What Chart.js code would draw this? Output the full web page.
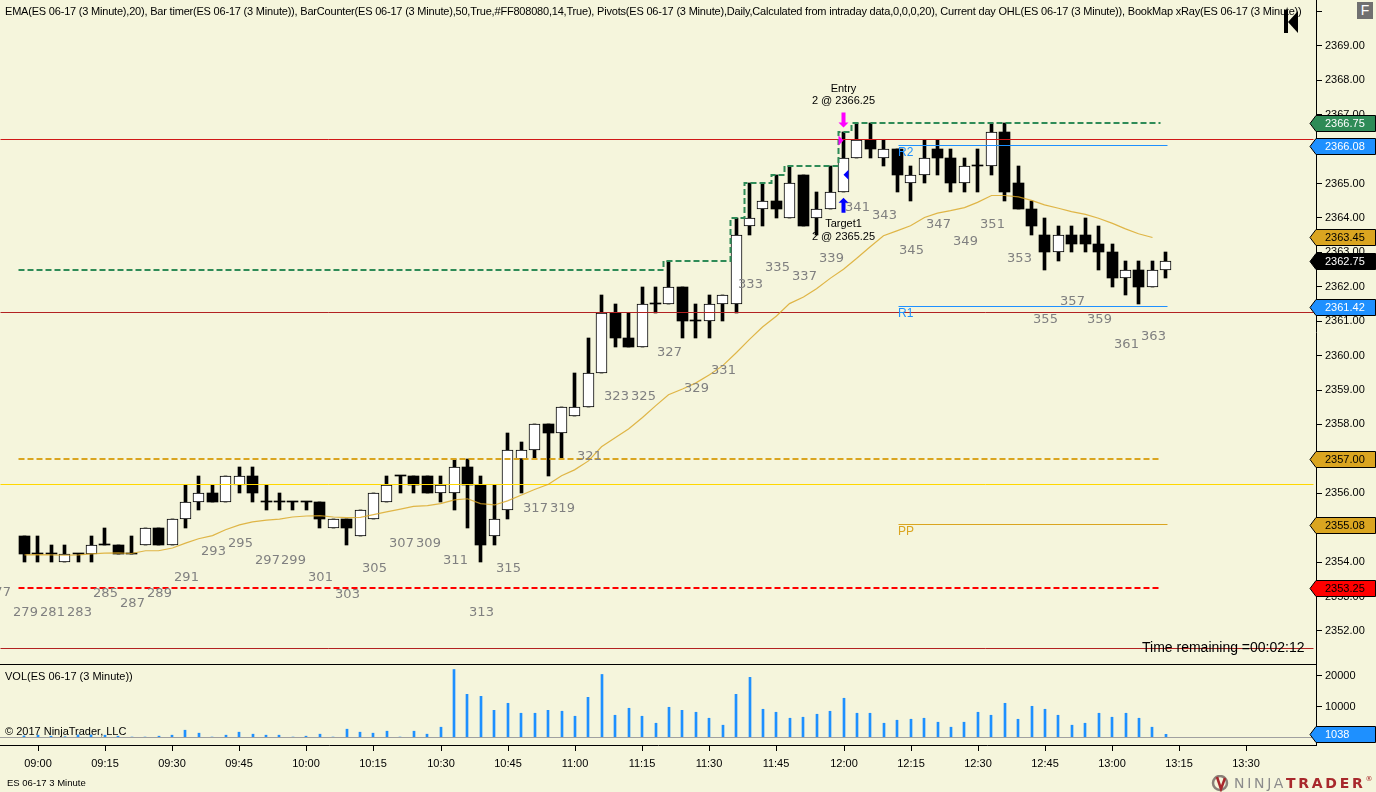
<!DOCTYPE html>
<html>
<head>
<meta charset="utf-8">
<script src="https://cdn.jsdelivr.net/npm/chart.js@4"></script>
<style>
html,body{margin:0;padding:0;background:#F5F5DC;width:1376px;height:792px;overflow:hidden;font-family:"Liberation Sans",Arial,sans-serif;color:#000;}
canvas{position:absolute;left:0;display:block;}
.txt{position:absolute;white-space:nowrap;line-height:1;}
</style>
</head>
<body>
<canvas id="priceChart" width="1376" height="665" style="top:0"></canvas>
<canvas id="volChart" width="1376" height="128" style="top:664px"></canvas>
<div class="txt" style="left:0;top:664px;width:1316px;height:1px;background:#000"></div>
<div class="txt" id="header" style="left:5px;top:6px;font-size:11px;letter-spacing:-0.2px">EMA(ES 06-17 (3 Minute),20), Bar timer(ES 06-17 (3 Minute)), BarCounter(ES 06-17 (3 Minute),50,True,#FF808080,14,True), Pivots(ES 06-17 (3 Minute),Daily,Calculated from intraday data,0,0,0,20), Current day OHL(ES 06-17 (3 Minute)), BookMap xRay(ES 06-17 (3 Minute))</div>
<svg style="position:absolute;left:1284px;top:10px" width="15" height="24"><rect x="0" y="0" width="4" height="23" fill="#000"/><path d="M4 12 L14 1 L14 23 Z" fill="#000"/></svg>
<div class="txt" style="left:1357px;top:2px;width:16px;height:17px;background:#707070;color:#fff;font-size:14px;line-height:17px;text-align:center">F</div>
<div class="txt" style="left:1142px;top:640px;font-size:14px">Time remaining =00:02:12</div>
<div class="txt" style="left:5px;top:671px;font-size:11px">VOL(ES 06-17 (3 Minute))</div>
<div class="txt" style="left:5px;top:726px;font-size:11px">© 2017 NinjaTrader, LLC</div>
<div class="txt" style="left:7px;top:778px;font-size:9.5px">ES 06-17 3 Minute</div>
<svg style="position:absolute;left:1211px;top:775px" width="20" height="17"><circle cx="9" cy="8" r="7" fill="none" stroke="#8a8078" stroke-width="2.5"/><path d="M6 2 L10 14 L14 3" fill="none" stroke="#a8282c" stroke-width="2.5"/></svg>
<div class="txt" style="left:1234px;top:776px;font-size:14px;letter-spacing:2.7px;font-family:'DejaVu Sans'"><span style="color:#8c8c8c">NINJA</span><span style="color:#a8282c;font-weight:bold">TRADER</span><span style="color:#a8282c;font-size:7px;vertical-align:top;letter-spacing:0">®</span></div>

<script>
// ---------- Data ----------
const barNumbers=[279,280,281,282,283,284,285,286,287,288,289,290,291,292,293,294,295,296,297,298,299,300,301,302,303,304,305,306,307,308,309,310,311,312,313,314,315,316,317,318,319,320,321,322,323,324,325,326,327,328,329,330,331,332,333,334,335,336,337,338,339,340,341,342,343,344,345,346,347,348,349,350,351,352,353,354,355,356,357,358,359,360,361,362,363,364];
const opens=[2354.75,2354.25,2354.25,2354,2354.25,2354.25,2354.5,2354.5,2354.25,2354.5,2355,2354.5,2355.25,2355.75,2356,2355.75,2356.25,2356.5,2355.75,2355.75,2355.75,2355.75,2355.75,2355,2355.25,2354.75,2355.25,2355.75,2356.5,2356.5,2356.5,2356,2356,2356.75,2356.25,2354.75,2355.5,2357,2357.25,2358,2357.75,2358.25,2358.5,2359.5,2361.25,2360.5,2360.25,2361.5,2361.5,2362,2361,2361,2361.5,2361.5,2363.75,2364.25,2364.5,2364,2365.25,2364,2364.25,2364.75,2365.75,2366.25,2365.75,2366,2365,2365.25,2366,2365.75,2365,2365.5,2365.5,2366.5,2365,2364.25,2363.5,2363,2363.5,2363.5,2363.25,2363,2362.25,2362.5,2362,2362.5];
const highs=[2354.75,2354.75,2354.5,2354.5,2354.25,2354.75,2355,2354.5,2354.75,2355,2355,2355.25,2356.25,2356.5,2356.25,2356.5,2356.75,2356.75,2356.25,2356,2355.75,2355.75,2355.75,2355.25,2355.25,2355.5,2356,2356.5,2356.5,2356.5,2356.5,2356.5,2357,2357,2356.5,2356.25,2357.75,2357.5,2358,2358,2358.5,2359.5,2360.5,2361.75,2361.5,2361.25,2362,2362,2362.75,2362,2361.5,2361.75,2361.75,2364,2365,2365,2365.25,2365.5,2365.25,2364.75,2365.5,2366.5,2366.75,2366.75,2366.25,2366,2365.5,2366.25,2366.25,2366,2365.75,2366,2366.75,2366.75,2365.5,2364.5,2364,2363.75,2363.75,2364,2363.75,2363.25,2362.75,2362.75,2362.75,2363];
const lows=[2354,2354,2354,2354,2354,2354,2354.5,2354.25,2354.25,2354.5,2354.5,2354.5,2355,2355.5,2355.75,2355.75,2356,2355.75,2355.5,2355.5,2355.5,2355.5,2355,2355,2354.5,2354.75,2355.25,2355.75,2356,2356,2356,2355.75,2355.5,2355,2354,2354.5,2355.25,2356,2357,2356.5,2357,2358.25,2358.5,2359.5,2360.25,2360.25,2360.25,2361.25,2361.5,2360.5,2360.5,2360.5,2361,2361.25,2363.5,2363.75,2364,2364,2363.75,2363.5,2364.25,2364.75,2365.75,2365.75,2365.5,2364.75,2364.5,2365,2365.25,2364.75,2364.75,2364.75,2365.25,2364.5,2364.25,2363.5,2362.5,2362.75,2363,2363,2362.5,2362,2361.75,2361.5,2362,2362.25];
const closes=[2354.25,2354.25,2354.25,2354.25,2354.25,2354.5,2354.5,2354.25,2354.25,2355,2354.5,2355.25,2355.75,2356,2355.75,2356.5,2356.5,2356,2355.75,2355.75,2355.75,2355.75,2355.25,2355.25,2355,2355.5,2356,2356.25,2356.5,2356.25,2356,2356.25,2356.75,2356.25,2354.5,2355.25,2357.25,2357.25,2358,2357.75,2358.5,2358.5,2359.5,2361.25,2360.5,2360.25,2361.5,2361.5,2362,2361,2361,2361.5,2361.75,2363.5,2364,2364.5,2364.25,2365,2363.75,2364.25,2364.75,2365.75,2366.25,2366,2366,2365.25,2365.25,2365.75,2365.75,2365,2365.5,2365.5,2366.5,2364.75,2364.25,2363.75,2363,2363.5,2363.25,2363.25,2363,2362.25,2362.5,2362,2362.5,2362.75];
const volumes=[500,750,430,250,860,860,750,430,150,150,430,750,2360,1400,150,750,1720,1075,750,750,150,430,1075,150,2690,1720,1400,2040,150,2040,1075,3330,22000,13975,13330,8800,11070,7850,7850,8800,8500,6880,13000,20400,7200,9460,6880,4620,9780,8800,8170,6235,3980,13975,19460,9140,8170,6235,6560,7525,8490,12700,7850,7850,4620,5590,5910,6235,4945,3330,4945,8170,7200,11070,5900,10100,9140,7200,3980,4620,7850,6560,7850,6235,3330,1038];
const emaValues=[2354.21,2354.22,2354.21,2354.2,2354.21,2354.24,2354.26,2354.27,2354.25,2354.33,2354.33,2354.41,2354.55,2354.68,2354.77,2354.94,2355.08,2355.17,2355.22,2355.25,2355.31,2355.34,2355.35,2355.31,2355.29,2355.3,2355.38,2355.46,2355.54,2355.62,2355.64,2355.7,2355.81,2355.84,2355.7,2355.66,2355.78,2355.95,2356.11,2356.26,2356.51,2356.68,2356.94,2357.35,2357.62,2357.87,2358.2,2358.54,2358.86,2359.03,2359.2,2359.44,2359.7,2360.09,2360.47,2360.83,2361.15,2361.51,2361.7,2361.94,2362.25,2362.51,2362.82,2363.17,2363.48,2363.63,2363.77,2364.01,2364.14,2364.21,2364.3,2364.45,2364.65,2364.65,2364.61,2364.51,2364.38,2364.28,2364.18,2364.1,2363.99,2363.84,2363.68,2363.54,2363.43];
const stopBars=[278.6,326.6,331.6,332.6,334.6,335.6,339.6,340.6,363.6];
const stopPrices=[2362.5,2362.75,2364,2365,2365.25,2365.5,2366.5,2366.75,2366.75];

const counterBars=[277,279,281,283,285,287,289,291,293,295,297,299,301,303,305,307,309,311,313,315,317,319,321,323,325,327,329,331,333,335,337,339,341,343,345,347,349,351,353,355,357,359,361,363];
const counterPrices=[2353.10,2352.52,2352.52,2352.52,2353.07,2352.78,2353.07,2353.54,2354.30,2354.53,2354.03,2354.03,2353.54,2353.05,2353.80,2354.53,2354.53,2354.03,2352.52,2353.80,2355.54,2355.54,2357.05,2358.80,2358.80,2360.08,2359.03,2359.55,2362.05,2362.55,2362.29,2362.81,2364.29,2364.06,2363.04,2363.80,2363.30,2363.80,2362.81,2361.04,2361.56,2361.04,2360.31,2360.54];

const priceTicks=[2352,2353,2354,2355,2356,2357,2358,2359,2360,2361,2362,2363,2364,2365,2366,2367,2368,2369,2370];
const volTicks=[10000,20000];
const timeBars=[280,285,290,295,300,305,310,315,320,325,330,335,340,345,350,355,360,365,370];
const timeLabels=["09:00","09:15","09:30","09:45","10:00","10:15","10:30","10:45","11:00","11:15","11:30","11:45","12:00","12:15","12:30","12:45","13:00","13:15","13:30"];

const tagPrices=[2366.75,2366.08,2363.45,2362.75,2361.42,2357.00,2355.08,2353.25];
const tagFills=["#2E8B57","#1E90FF","#DAA520","#000000","#1E90FF","#DAA520","#DAA520","#FF0000"];
const tagInks=["#fff","#fff","#000","#fff","#fff","#000","#000","#000"];
const markerBar=340, entryPrice=2366.25, targetPrice=2365.25;
const yellowOpen=2356.25, redUpper=2366.28, redMiddle=2361.25, redLower=2351.49;
const dashedOrange=2357, dashedRed=2353.25;
const pivotNames=["R2","R1","PP"];
const pivotPrices=[2366.10,2361.42,2355.08];
const pivotColors=["#1E90FF","#1E90FF","#DAA520"];

// ---------- Scales ----------
const xMin=277.19, xMax=375.18;
const priceMin=2351.04, priceMax=2370.33;
const volMin=-2420, volMax=23780;
const AXIS_W=60;
const FONT='"Liberation Sans",Arial,sans-serif';

const rawPixel=(s,v)=>Object.getPrototypeOf(s).getPixelForValue.call(s,v);
const snapHalf=s=>{ s.getPixelForValue=v=>Math.floor(rawPixel(s,v))+0.5; };
const snapWhole=s=>{ s.getPixelForValue=v=>Math.round(rawPixel(s,v)); };

function rightAxis(min,max,ticks,fmt){
  return {type:'linear',position:'right',min,max,
    afterBuildTicks:a=>{a.ticks=ticks.map(v=>({value:v}));},
    afterFit:a=>{a.width=AXIS_W;a.paddingTop=0;a.paddingBottom=0;},
    border:{color:'#000',width:1},
    grid:{offset:false,drawOnChartArea:false,drawTicks:true,tickLength:6,tickColor:'#000',tickWidth:1},
    ticks:{color:'#000',padding:3,autoSkip:false,font:{family:FONT,size:11},callback:fmt}};
}

function hline(x0,x1,p,color,width,dash,axis){
  return {type:'line',data:[{x:x0,y:p},{x:x1,y:p}],borderColor:color,borderWidth:width,borderDash:dash||[],pointRadius:0,order:1,yAxisID:axis||'yLevels'};
}

// ---------- Plugins ----------
function drawTag(ctx,y,fill,ink,text){
  ctx.beginPath();ctx.moveTo(1310,y);ctx.lineTo(1316,y-8);ctx.lineTo(1375.5,y-8);ctx.lineTo(1375.5,y+8);ctx.lineTo(1316,y+8);ctx.closePath();
  ctx.fillStyle=fill;ctx.fill();ctx.strokeStyle='#000';ctx.lineWidth=1;ctx.stroke();
  ctx.fillStyle=ink;ctx.font='11px '+FONT;ctx.textAlign='left';ctx.textBaseline='middle';
  ctx.fillText(text,1325,y+0.5);
}

function arrow(ctx,x,tipY,dir,color){ // dir: 1 points down, -1 points up
  ctx.fillStyle=color;ctx.beginPath();
  ctx.moveTo(x,tipY);ctx.lineTo(x+5,tipY-dir*5);ctx.lineTo(x+2,tipY-dir*5);ctx.lineTo(x+2,tipY-dir*15);
  ctx.lineTo(x-2,tipY-dir*15);ctx.lineTo(x-2,tipY-dir*5);ctx.lineTo(x-5,tipY-dir*5);ctx.closePath();ctx.fill();
}

const priceOverlay={id:'priceOverlay',afterDatasetsDraw(chart){
  const {ctx,scales:{x,y}}=chart;
  ctx.save();
  // compteur de barres
  ctx.fillStyle='#808080';ctx.font='13px "DejaVu Sans"';ctx.textAlign='center';ctx.textBaseline='middle';
  counterBars.forEach((b,i)=>ctx.fillText(String(b),x.getPixelForValue(b)+1,y.getPixelForValue(counterPrices[i])));
  // pivots
  ctx.font='12px '+FONT;ctx.textAlign='left';
  pivotNames.forEach((n,i)=>{ctx.fillStyle=pivotColors[i];ctx.fillText(n,898,y.getPixelForValue(pivotPrices[i])+7);});
  // entry / target
  const mx=x.getPixelForValue(markerBar), ey=y.getPixelForValue(entryPrice), ty=y.getPixelForValue(targetPrice);
  arrow(ctx,mx,ey-13,1,'#FF00FF');
  arrow(ctx,mx,ty+23,-1,'#0000FF');
  ctx.fillStyle='#FF00FF';ctx.beginPath();ctx.moveTo(mx,ey);ctx.lineTo(mx-5,ey-5);ctx.lineTo(mx-5,ey+5);ctx.closePath();ctx.fill();
  ctx.fillStyle='#0000FF';ctx.beginPath();ctx.moveTo(mx,ty);ctx.lineTo(mx+5,ty-5);ctx.lineTo(mx+5,ty+5);ctx.closePath();ctx.fill();
  ctx.fillStyle='#000';ctx.font='11px '+FONT;ctx.textAlign='center';
  ctx.fillText('Entry',mx,ey-51);ctx.fillText('2 @ '+entryPrice.toFixed(2),mx,ey-39);
  ctx.fillText('Target1',mx,ty+49);ctx.fillText('2 @ '+targetPrice.toFixed(2),mx,ty+62);
  ctx.restore();
},afterDraw(chart){
  const {ctx,scales:{y}}=chart;
  ctx.save();
  tagPrices.forEach((p,i)=>drawTag(ctx,Math.round(y.getPixelForValue(p))+0.5,tagFills[i],tagInks[i],p.toFixed(2)));
  ctx.restore();
}};

const volOverlay={id:'volOverlay',afterDraw(chart){
  const {ctx,scales:{y}}=chart;
  ctx.save();
  const last=volumes[volumes.length-1];
  drawTag(ctx,Math.round(y.getPixelForValue(last))+0.5,'#1E90FF','#fff',String(last));
  ctx.restore();
}};

// ---------- Price chart ----------
const upIdx=barNumbers.map((b,i)=>i).filter(i=>closes[i]>opens[i]);
const downIdx=barNumbers.map((b,i)=>i).filter(i=>closes[i]<=opens[i]);
const bodySet=i=>({x:barNumbers[i],y:[Math.min(opens[i],closes[i]),Math.max(opens[i],closes[i])]});

new Chart(document.getElementById('priceChart'),{
  type:'bar',
  plugins:[priceOverlay],
  data:{datasets:[
    {data:barNumbers.map((b,i)=>({x:b,y:[lows[i],highs[i]]})),backgroundColor:'#000',barThickness:3,grouped:false,borderSkipped:false,order:6,yAxisID:'yBars'},
    {data:downIdx.map(bodySet),backgroundColor:'#000',barThickness:11,minBarLength:1,grouped:false,borderSkipped:false,order:5,yAxisID:'yBars'},
    {data:upIdx.map(bodySet),backgroundColor:'#fff',borderColor:'#000',borderWidth:1,barThickness:11,grouped:false,borderSkipped:false,order:4,yAxisID:'yBars'},
    {type:'line',data:emaValues.map((v,i)=>({x:barNumbers[i],y:v})),borderColor:'rgba(218,165,32,0.8)',borderWidth:1.2,pointRadius:0,order:1,yAxisID:'y'},
    {type:'line',data:stopBars.map((b,i)=>({x:b,y:stopPrices[i]})),borderColor:'#2E8B57',borderWidth:2,borderDash:[6,3],stepped:'before',pointRadius:0,order:1,yAxisID:'yBars'},
    hline(278.55,363.6,dashedOrange,'#DAA520',2,[6,3],'yBars'),
    hline(278.55,363.6,dashedRed,'#FF0000',2,[6,3],'yBars'),
    hline(xMin,375,yellowOpen,'#FFD700',1),
    hline(xMin,375,redUpper,'#D01818',1),
    hline(xMin,375,redMiddle,'#B22222',1),
    hline(xMin,375,redLower,'#B22222',1),
    hline(344.08,364.1,pivotPrices[0],'#1E90FF',1),
    hline(344.08,364.1,pivotPrices[1],'#1E90FF',1),
    hline(344.08,364.1,pivotPrices[2],'#DAA520',1)
  ]},
  options:{
    responsive:false,animation:false,devicePixelRatio:1,
    layout:{padding:{left:0,right:0,top:0,bottom:1}},
    plugins:{legend:{display:false},tooltip:{enabled:false}},
    scales:{
      x:{type:'linear',display:false,offset:false,min:xMin,max:xMax,afterUpdate:snapHalf},
      y:rightAxis(priceMin,priceMax,priceTicks,v=>v===2370?'':v.toFixed(2)),
      yBars:{type:'linear',display:false,min:priceMin,max:priceMax,afterUpdate:snapWhole},
      yLevels:{type:'linear',display:false,min:priceMin,max:priceMax,afterUpdate:snapHalf}
    }
  }
});

// ---------- Volume chart ----------
new Chart(document.getElementById('volChart'),{
  type:'bar',
  plugins:[volOverlay],
  data:{datasets:[
    {data:barNumbers.map((b,i)=>({x:b,y:volumes[i]})),backgroundColor:'#1E90FF',barThickness:2,grouped:false,order:2,yAxisID:'y'},
    hline(xMin,xMax,0,'#A0A0A0',1)
  ]},
  options:{
    responsive:false,animation:false,devicePixelRatio:1,
    layout:{padding:0},
    plugins:{legend:{display:false},tooltip:{enabled:false}},
    scales:{
      x:{type:'linear',offset:false,min:xMin,max:xMax,
        afterBuildTicks:a=>{a.ticks=timeBars.map(v=>({value:v}));},
        afterFit:a=>{a.height=47;},
        afterUpdate:snapWhole,
        border:{color:'#000',width:1},
        grid:{offset:false,drawOnChartArea:false,drawTicks:true,tickLength:6,tickColor:'#000'},
        ticks:{color:'#000',padding:6,autoSkip:false,maxRotation:0,font:{family:FONT,size:11},
          callback:v=>timeLabels[timeBars.indexOf(v)]}},
      y:rightAxis(volMin,volMax,volTicks,v=>String(v)),
      yLevels:{type:'linear',display:false,min:volMin,max:volMax,afterUpdate:snapHalf}
    }
  }
});
</script>
</body>
</html>
